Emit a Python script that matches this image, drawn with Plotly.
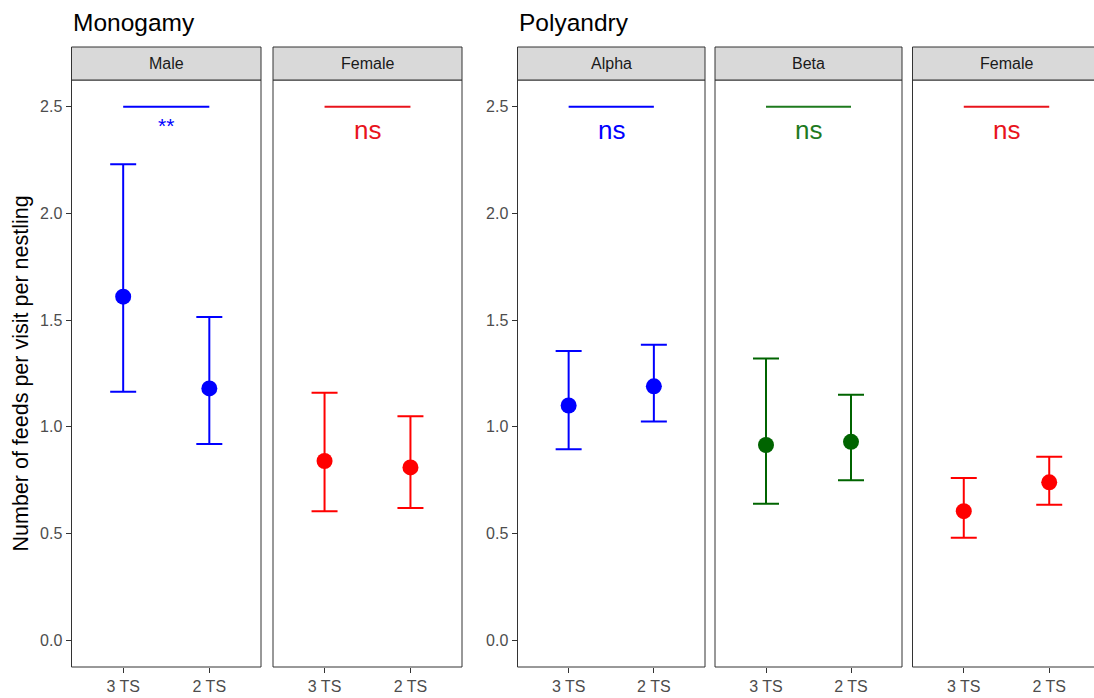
import plotly.graph_objects as go

# ---------------- data ----------------
categories = ["3 TS", "2 TS"]
panel_labels = ["Male", "Female", "Alpha", "Beta", "Female"]
group_titles = ["Monogamy", "Polyandry"]

male_mono_mean = [1.61, 1.18]
male_mono_upper = [2.23, 1.515]
male_mono_lower = [1.165, 0.92]

female_mono_mean = [0.84, 0.81]
female_mono_upper = [1.16, 1.05]
female_mono_lower = [0.605, 0.62]

alpha_mean = [1.10, 1.19]
alpha_upper = [1.355, 1.385]
alpha_lower = [0.895, 1.025]

beta_mean = [0.915, 0.93]
beta_upper = [1.32, 1.15]
beta_lower = [0.64, 0.75]

female_poly_mean = [0.605, 0.74]
female_poly_upper = [0.76, 0.86]
female_poly_lower = [0.48, 0.635]

sig_labels = ["**", "ns", "ns", "ns", "ns"]
sig_level = 2.5
y_ticks = [0.0, 0.5, 1.0, 1.5, 2.0, 2.5]

means = [male_mono_mean, female_mono_mean, alpha_mean, beta_mean, female_poly_mean]
uppers = [male_mono_upper, female_mono_upper, alpha_upper, beta_upper, female_poly_upper]
lowers = [male_mono_lower, female_mono_lower, alpha_lower, beta_lower, female_poly_lower]

# ---------------- style / layout ----------------
W, H = 1094, 698
colors = ["#0000FF", "#FF0000", "#0000FF", "#006400", "#FF0000"]
line_colors = ["#0000FF", "#E8141C", "#0000FF", "#1E7A1E", "#E8141C"]
panels_px = [(71.5, 261), (273, 462), (517.5, 705), (715, 902), (912.5, 1100.5)]
top_px, bottom_px, strip_top_px = 80, 667, 47
FONT = "Liberation Sans, Arial, sans-serif"
BORDER = "#333333"


def pxx(x):
    return x / W


def pxy(y):
    return 1 - y / H


fig = go.Figure()
shapes = []
annotations = []
layout = {}
xcat = [1, 2]

for i in range(5):
    l, r = panels_px[i]
    rr = min(r, W)
    n = "" if i == 0 else str(i + 1)
    xa = "x" + n
    ya = "y" + n
    xr = [0.4, 0.4 + 2.2 * (rr - l) / (r - l)]
    layout["xaxis" + n] = dict(
        domain=[pxx(l), pxx(rr)], range=xr, anchor=ya,
        tickmode="array", tickvals=xcat, ticktext=categories,
        ticks="outside", ticklen=5, tickwidth=1, tickcolor=BORDER,
        tickfont=dict(family=FONT, size=16, color="#4d4d4d"),
        showgrid=False, zeroline=False, showline=False, fixedrange=True,
    )
    show_y = i in (0, 2)
    layout["yaxis" + n] = dict(
        domain=[pxy(bottom_px), pxy(top_px)], range=[-0.125, 2.625], anchor=xa,
        tickmode="array", tickvals=y_ticks if show_y else [],
        ticktext=[f"{v:.1f}" for v in y_ticks] if show_y else [],
        ticks="outside" if show_y else "", ticklen=5, tickwidth=1, tickcolor=BORDER,
        tickfont=dict(family=FONT, size=16, color="#4d4d4d"),
        showgrid=False, zeroline=False, showline=False, fixedrange=True,
        showticklabels=show_y,
    )

    m = means[i]
    up = [u - v for u, v in zip(uppers[i], m)]
    dn = [v - lo for v, lo in zip(m, lowers[i])]
    fig.add_trace(go.Scatter(
        x=xcat, y=m, mode="markers", xaxis=xa, yaxis=ya,
        marker=dict(color=colors[i], size=16),
        error_y=dict(type="data", array=up, arrayminus=dn, color=colors[i],
                     thickness=2, width=13),
        showlegend=False, hoverinfo="skip",
    ))
    # significance bar
    fig.add_trace(go.Scatter(
        x=xcat, y=[sig_level, sig_level], mode="lines", xaxis=xa, yaxis=ya,
        line=dict(color=line_colors[i], width=2),
        showlegend=False, hoverinfo="skip",
    ))
    is_star = sig_labels[i] == "**"
    annotations.append(dict(
        x=1.5, y=2.39 if not is_star else 2.41, xref=xa, yref=ya,
        text=sig_labels[i], showarrow=False, yanchor="middle",
        font=dict(family=FONT, size=26 if not is_star else 21, color=line_colors[i]),
    ))

    # panel border
    shapes.append(dict(type="rect", xref="paper", yref="paper",
                       x0=pxx(l), x1=pxx(r), y0=pxy(bottom_px), y1=pxy(top_px),
                       line=dict(color=BORDER, width=1), fillcolor="rgba(0,0,0,0)",
                       layer="above"))
    # strip
    shapes.append(dict(type="rect", xref="paper", yref="paper",
                       x0=pxx(l), x1=pxx(r), y0=pxy(top_px), y1=pxy(strip_top_px),
                       line=dict(color=BORDER, width=1), fillcolor="#d9d9d9"))
    annotations.append(dict(
        x=pxx((l + r) / 2), y=pxy((top_px + strip_top_px) / 2), xref="paper", yref="paper",
        text=panel_labels[i], showarrow=False, xanchor="center", yanchor="middle",
        font=dict(family=FONT, size=16, color="#1a1a1a"),
    ))

# group titles
for title, xpos in zip(group_titles, [71, 517]):
    annotations.append(dict(
        x=pxx(xpos), y=pxy(22), xref="paper", yref="paper", text=title,
        showarrow=False, xanchor="left", yanchor="middle",
        font=dict(family=FONT, size=24.5, color="black"),
    ))

# y-axis title
annotations.append(dict(
    x=pxx(20), y=pxy((top_px + bottom_px) / 2), xref="paper", yref="paper",
    text="Number of feeds per visit per nestling", textangle=-90,
    showarrow=False, xanchor="center", yanchor="middle",
    font=dict(family=FONT, size=21.5, color="black"),
))

fig.update_layout(
    width=W, height=H, margin=dict(l=0, r=0, t=0, b=0),
    paper_bgcolor="white", plot_bgcolor="white",
    shapes=shapes, annotations=annotations, **layout,
)

fig.write_html(
    "out.html",
    config={"displayModeBar": False},
    post_script="document.body.style.margin='0';document.body.style.overflow='hidden';",
)
